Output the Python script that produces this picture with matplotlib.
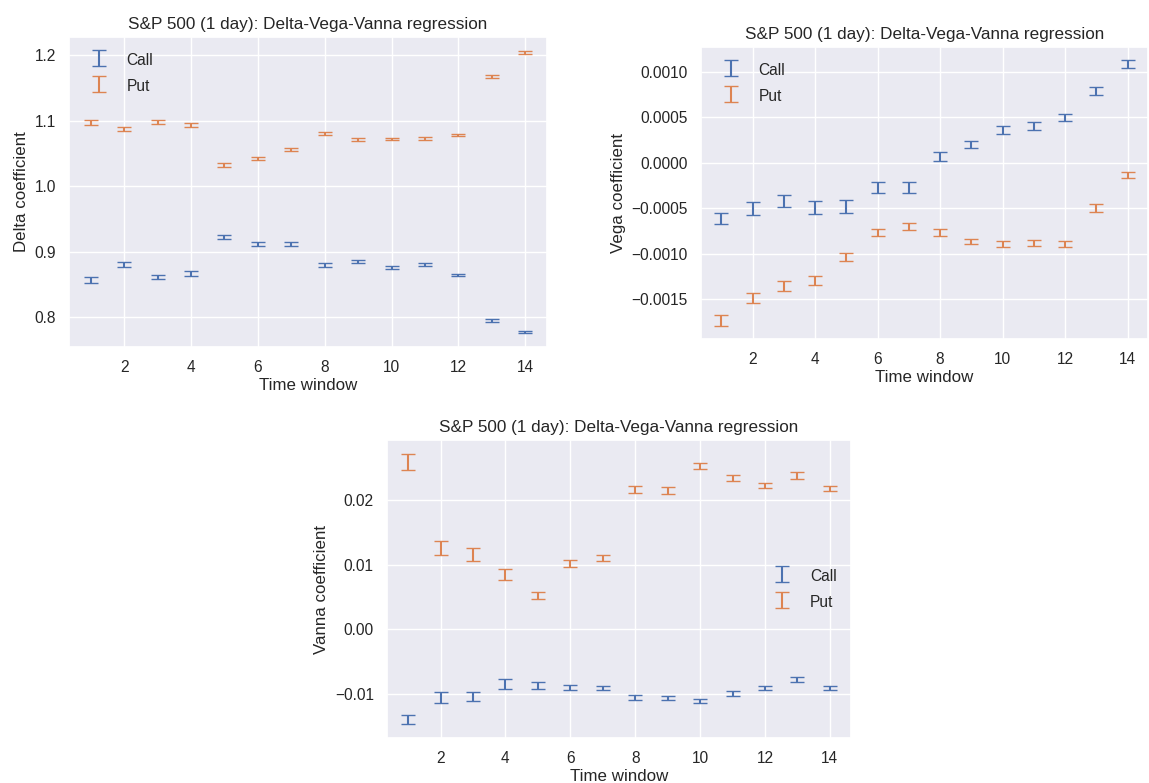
#!/usr/bin/env python3
"""Delta-Vega-Vanna regression coefficients for S&P 500 (1 day)."""
import matplotlib
matplotlib.use("Agg")
import matplotlib.pyplot as plt
import numpy as np
import seaborn as sns

windows = np.arange(1, 15)

delta_call = [0.857, 0.8805, 0.862, 0.867, 0.923, 0.912, 0.912, 0.880, 0.885, 0.876, 0.8805, 0.865, 0.795, 0.778]
delta_call_err = [0.004, 0.004, 0.003, 0.004, 0.003, 0.003, 0.003, 0.003, 0.002, 0.002, 0.002, 0.002, 0.002, 0.0015]
delta_put = [1.097, 1.087, 1.098, 1.0935, 1.033, 1.0425, 1.056, 1.080, 1.071, 1.072, 1.0726, 1.078, 1.167, 1.204]
delta_put_err = [0.004, 0.003, 0.003, 0.003, 0.003, 0.002, 0.002, 0.002, 0.002, 0.001, 0.002, 0.001, 0.002, 0.002]

vega_call = [-0.000615, -0.000505, -0.00042, -0.000494, -0.00048, -0.000275, -0.000267, 0.000073,
             0.000198, 0.000362, 0.000403, 0.000494, 0.00079, 0.001087]
vega_call_err = [0.000062, 0.000073, 0.00007, 0.00007, 0.00007, 0.00006, 0.00006, 0.00005,
                 0.00004, 0.00004, 0.00004, 0.00004, 0.00004, 0.00004]
vega_put = [-0.001731, -0.001486, -0.001354, -0.001292, -0.001036, -0.000769, -0.000699, -0.000769,
            -0.000868, -0.000893, -0.000882, -0.000893, -0.000498, -0.000135]
vega_put_err = [0.00006, 0.00005, 0.00005, 0.00005, 0.00004, 0.00004, 0.00004, 0.00004,
                0.00003, 0.00003, 0.00003, 0.00003, 0.00004, 0.00003]

vanna_call = [-0.01396, -0.01054, -0.01039, -0.00846, -0.00871, -0.00902, -0.00912, -0.01054,
              -0.0106, -0.01105, -0.00988, -0.00912, -0.00774, -0.00912]
vanna_call_err = [0.00076, 0.0008, 0.0007, 0.0007, 0.0005, 0.0004, 0.0003, 0.0004,
                  0.0003, 0.0003, 0.0004, 0.0003, 0.0004, 0.0003]
vanna_put = [0.02593, 0.01253, 0.01156, 0.00846, 0.00525, 0.01019, 0.01105, 0.02165,
             0.02145, 0.02527, 0.02338, 0.02221, 0.02379, 0.02175]
vanna_put_err = [0.00127, 0.0011, 0.001, 0.0009, 0.0006, 0.0005, 0.0005, 0.0005,
                 0.0005, 0.0004, 0.0005, 0.0004, 0.0005, 0.0004]

sns.set_theme(style="darkgrid")
plt.rcParams['font.family'] = ['Liberation Sans', 'DejaVu Sans']
plt.rcParams['xtick.labelsize'] = 11.2
plt.rcParams['ytick.labelsize'] = 11.2
plt.rcParams['axes.labelsize'] = 12.2
plt.rcParams['axes.titlesize'] = 12.3
plt.rcParams['legend.fontsize'] = 11.2

call_color, put_color = sns.color_palette("deep")[:2]

fig = plt.figure(figsize=(11.49, 7.83), dpi=100)

W, H = 1149, 783


def axes_px(x0, y0, x1, y1):
    return fig.add_axes([x0 / W, 1 - y1 / H, (x1 - x0) / W, (y1 - y0) / H])


panels = [
    (axes_px(69, 37, 547, 347), delta_call, delta_call_err, delta_put, delta_put_err,
     "Delta coefficient", "upper left"),
    (axes_px(701, 47, 1148, 339), vega_call, vega_call_err, vega_put, vega_put_err,
     "Vega coefficient", "upper left"),
    (axes_px(387, 440, 851, 738), vanna_call, vanna_call_err, vanna_put, vanna_put_err,
     "Vanna coefficient", "center right"),
]

for ax, call, call_err, put, put_err, ylabel, loc in panels:
    ax.errorbar(windows, call, yerr=call_err, fmt='none', capsize=5,
                ecolor=call_color, label="Call")
    ax.errorbar(windows, put, yerr=put_err, fmt='none', capsize=5,
                ecolor=put_color, label="Put")
    ax.set_title("S&P 500 (1 day): Delta-Vega-Vanna regression")
    ax.set_xlabel("Time window", labelpad=2)
    ax.set_ylabel(ylabel)
    ax.set_xticks(np.arange(2, 15, 2))
    ax.legend(loc=loc, frameon=False, handleheight=1.4)

plt.savefig("out.png", dpi=100)
plt.close()
print("Saved: out.png")
